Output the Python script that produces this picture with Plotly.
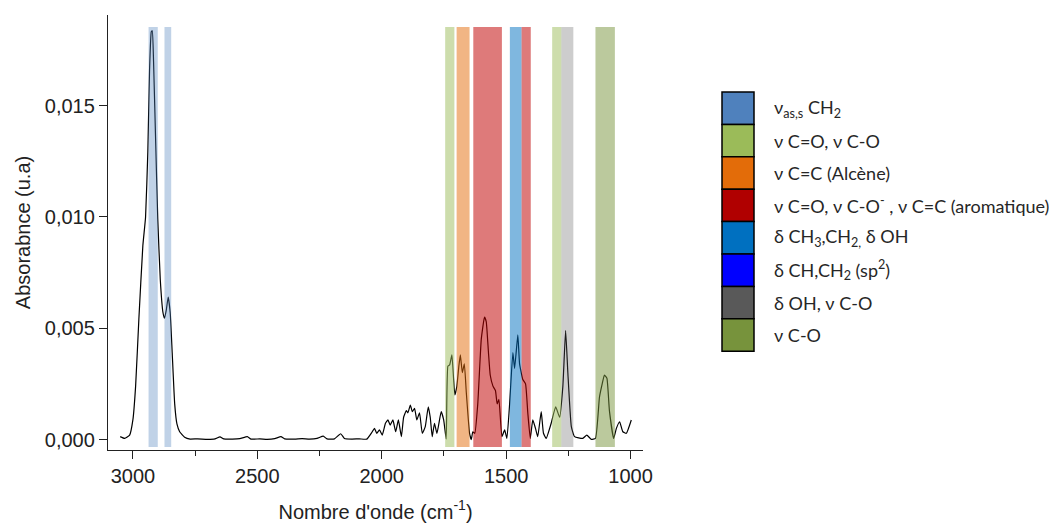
import plotly.graph_objects as go

# ---- spectrum data ----
wavenumber = [3051, 3033, 3013, 3000, 2989, 2976, 2960, 2949, 2940, 2933, 2926, 2922, 2917, 2909,
              2900, 2890, 2879, 2873, 2866, 2858, 2850, 2842, 2832, 2823, 2812, 2792,
              2770, 2740, 2700, 2670, 2650, 2635, 2600, 2570, 2540, 2525, 2490, 2460, 2430,
              2405, 2390, 2350, 2320, 2290, 2260, 2235, 2220, 2190, 2165, 2150, 2120, 2090, 2060,
              2038, 2029, 2020, 2009, 1998, 1985, 1975, 1966, 1955, 1944, 1933, 1921, 1912,
              1901, 1895, 1885, 1877, 1868, 1859, 1848, 1837, 1825, 1813, 1805, 1797, 1788,
              1778, 1761, 1751, 1741,
              1734, 1727, 1718, 1711, 1706, 1698, 1690, 1684, 1676, 1668, 1660, 1647, 1640,
              1634, 1626, 1614, 1600, 1587, 1580, 1571, 1564, 1553, 1543, 1536, 1529, 1517,
              1506, 1497, 1486, 1473, 1466, 1453, 1446, 1433, 1422, 1413, 1403, 1393, 1382,
              1373, 1359, 1350, 1339, 1319, 1301, 1285, 1272, 1261, 1252, 1238, 1225, 1192,
              1176, 1158, 1141, 1125, 1114, 1105, 1095, 1085, 1068, 1057, 1044, 1031, 1017, 997]
absorbance = [0.00013, 0.00005, 0.0002, 0.00088, 0.0024, 0.0054, 0.0087, 0.0100, 0.0129, 0.0166,
              0.01832, 0.01836, 0.0170, 0.0136, 0.0099, 0.0072, 0.0057, 0.00545, 0.0058, 0.0064,
              0.0057, 0.0039, 0.0016, 0.0007, 0.00035, 0.0001,
              0.00002, 0.00003, 0.00001, 0.00003, 0.00012, 0.00003, 0.00002, 0.00004, 0.00013,
              0.00002, 0.00003, 0.00001, 0.00004, 0.00013, 0.00003, 0.00002, 0.00004, 0.00002,
              0.00005, 0.00015, 0.00003, 0.00003, 0.00026, 0.00005, 0.00002, 0.00003, 0.00002,
              0.00035, 0.0005, 0.00028, 0.00043, 0.0002, 0.00073, 0.00088, 0.00065, 0.00088,
              0.00035, 0.00088, 0.00013, 0.001, 0.0013, 0.0012, 0.00155, 0.00125, 0.0014,
              0.00088, 0.0012, 0.00028, 0.00058, 0.00147, 0.001, 0.00013, 0.00073, 0.00028,
              0.00125, 0.00088, 0.00002,
              0.0033, 0.00335, 0.0038, 0.0027, 0.002, 0.0024, 0.0033, 0.0038, 0.003, 0.0034,
              0.0021, 0.00028, 0.0, 0.00035, 0.00028, 0.0016, 0.0045, 0.0055, 0.0053, 0.0039,
              0.0029, 0.0024, 0.0022, 0.0016, 0.0018, 0.00013, 0.00043, 0.00005, 0.0016, 0.0039,
              0.0032, 0.0047, 0.0034, 0.0027, 0.0025, 0.0012, 0.00005, 0.00088, 0.0005, 0.00013,
              0.00125, 0.00028, 0.00005, 0.00073, 0.00147, 0.001, 0.0024, 0.0049, 0.003, 0.00058,
              0.00013, 0.00005, 0.0002, 0.00001, 0.00005, 0.0019, 0.0025, 0.0029, 0.00275, 0.0013,
              0.00005, 0.0005, 0.0008, 0.00035, 0.00028, 0.00088]

# ---- assignment bands ----
band_start = [2937, 2873, 1745, 1699, 1632, 1485, 1438, 1315, 1278, 1141]
band_end = [2900, 2846, 1708, 1647, 1517, 1438, 1401, 1278, 1230, 1063]
band_colors = ["rgba(79,129,189,0.36)", "rgba(79,129,189,0.36)", "rgba(155,187,89,0.5)",
               "rgba(227,108,9,0.5)", "rgba(192,0,0,0.52)", "rgba(0,112,192,0.5)",
               "rgba(192,0,0,0.52)", "rgba(155,187,89,0.5)", "rgba(89,89,89,0.3)",
               "rgba(119,147,60,0.5)"]
band_ymin, band_ymax = -0.00034, 0.01853

# ---- legend ----
legend_labels = ["ν<sub>as,s</sub> CH<sub>2</sub>",
                 "ν C=O, ν C-O",
                 "ν C=C (Alcène)",
                 "ν C=O, ν C-O<sup>-</sup> , ν C=C (aromatique)",
                 "δ CH<sub>3</sub>,CH<sub>2,</sub> δ OH",
                 "δ CH,CH<sub>2</sub> (sp<sup>2</sup>)",
                 "δ OH, ν C-O",
                 "ν C-O"]
legend_colors = ["#4F81BD", "#9BBB59", "#E36C09", "#B00000", "#0070C0", "#0000FF", "#595959", "#77933C"]

W, H = 1057, 531
OFF = 8  # page body margin
PL, PR, PT, PB = 108 - OFF, 643 - OFF, 15 - OFF, 450 - OFF  # plot area in figure px


def px(xp):
    return (xp - OFF - PL) / (PR - PL)


def py(yp):
    return (PB - (yp - OFF)) / (PB - PT)


fig = go.Figure()
fig.add_trace(go.Scatter(x=wavenumber, y=absorbance, mode="lines",
                         line=dict(color="black", width=1.2, shape="spline", smoothing=0.4),
                         showlegend=False, hoverinfo="skip"))

for x0, x1, c in zip(band_start, band_end, band_colors):
    fig.add_shape(type="rect", xref="x", yref="y", x0=x0, x1=x1, y0=band_ymin, y1=band_ymax,
                  fillcolor=c, line=dict(width=0), layer="above")

box_left, box_right = 722, 754
box_top, box_h = 92, 32.4
for i, (lab, col) in enumerate(zip(legend_labels, legend_colors)):
    top = box_top + i * box_h
    fig.add_shape(type="rect", xref="paper", yref="paper",
                  x0=px(box_left), x1=px(box_right),
                  y0=py(top + box_h), y1=py(top),
                  fillcolor=col, line=dict(color="black", width=1.5))
    fig.add_annotation(xref="paper", yref="paper", x=px(772),
                       y=py(top + box_h / 2), xanchor="left", yanchor="middle",
                       text=lab, showarrow=False, font=dict(family="Lato", size=18, color="#262626"))

fig.update_layout(
    width=W, height=H, plot_bgcolor="white", paper_bgcolor="white",
    margin=dict(l=PL, r=W - PR, t=PT, b=H - PB),
    separators=",.",
    font=dict(family="Liberation Sans, Arial", size=20, color="#222"),
    xaxis=dict(range=[3100, 950], tickmode="array", tickvals=[3000, 2500, 2000, 1500, 1000],
               ticks="outside", ticklen=8, tickwidth=1.2, tickcolor="#222",
               tickfont=dict(size=20),
               showline=True, linecolor="#222", linewidth=1.3, showgrid=False, zeroline=False,
               minor=dict(tickvals=[2750, 2250, 1750, 1250], ticks="outside", ticklen=5,
                          tickwidth=1.2, tickcolor="#222", showgrid=False),
               title=dict(text="Nombre d'onde (cm<sup>-1</sup>)", standoff=18,
                          font=dict(size=20))),
    yaxis=dict(range=[-0.00047, 0.01907], tickvals=[0, 0.005, 0.010, 0.015], tickformat=".3f",
               ticks="outside", ticklen=8, tickwidth=1.2, tickcolor="#222",
               tickfont=dict(size=20),
               showline=True, linecolor="#222", linewidth=1.3, showgrid=False, zeroline=False,
               title=dict(text="Absorabnce (u.a)", standoff=8, font=dict(size=20))),
)

fig.write_html("out.html")
